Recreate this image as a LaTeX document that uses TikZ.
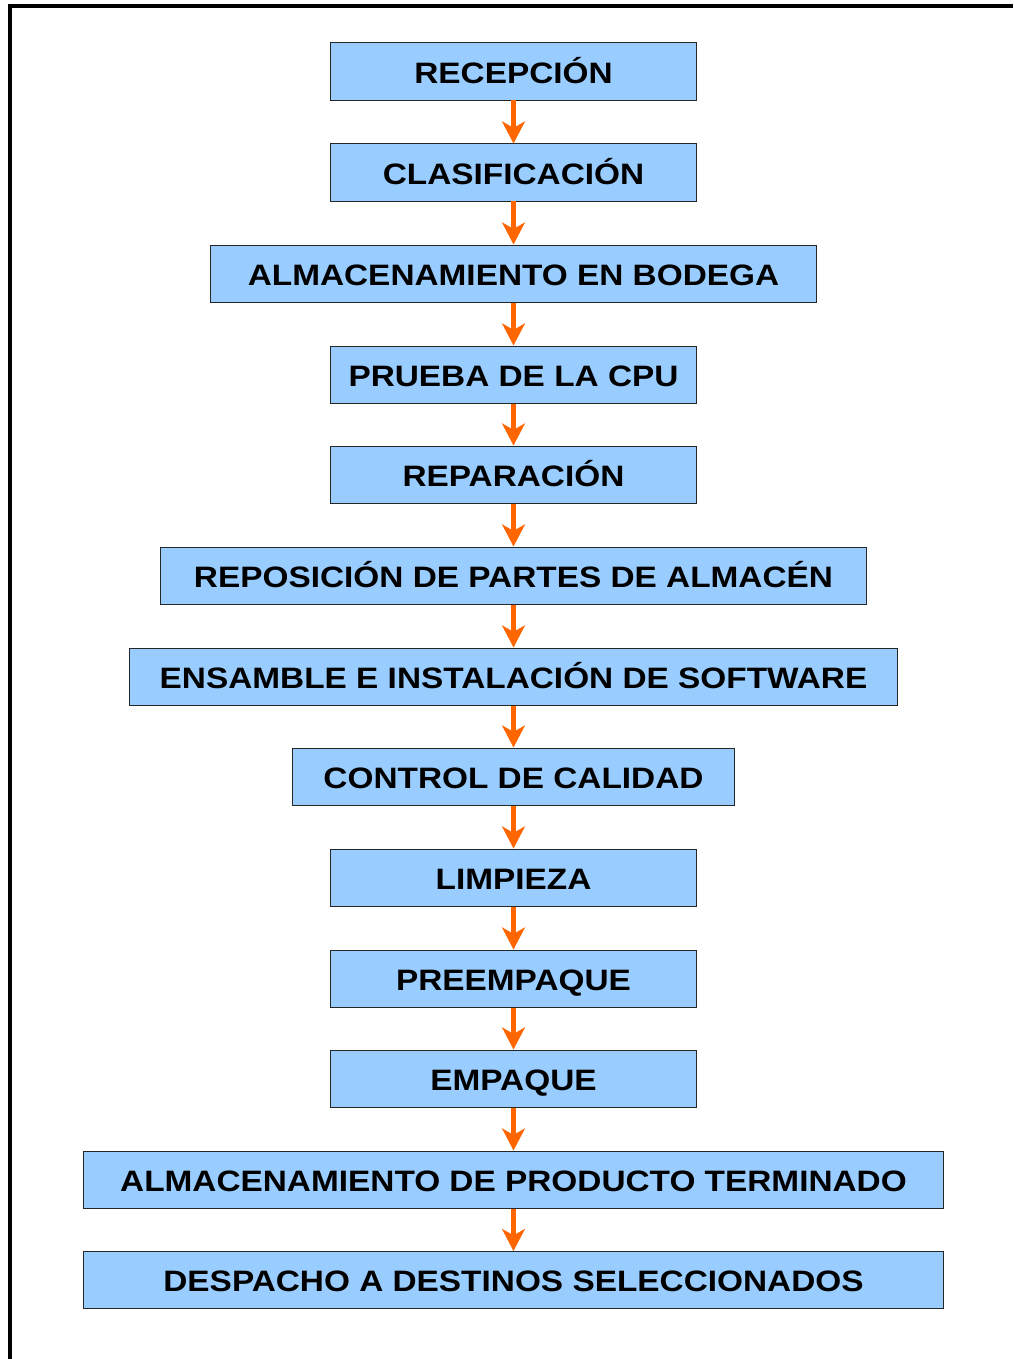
\documentclass[tikz,border=0pt]{standalone}
\usepackage{fontspec}
\setmainfont{Liberation Sans}
\newfontfamily\etiqueta[FakeStretch=1.13]{Liberation Sans}
\usetikzlibrary{arrows.meta}
\definecolor{boxblue}{HTML}{99CCFF}
\definecolor{flecha}{HTML}{FF6600}
\tikzset{
  etapa/.style={draw=black!85, line width=0.7pt, fill=boxblue, minimum height=1.425cm,
    inner sep=0pt, text height=0.575cm, text depth=0pt,
    font=\etiqueta\fontsize{21}{25}\selectfont\bfseries},
  paso/.style={draw=flecha, line width=3.2pt, -{Stealth[length=5.5mm, width=5.7mm, inset=1.6mm]}}
}
\begin{document}
\begin{tikzpicture}[x=0.025cm, y=-0.025cm]
    \useasboundingbox (0,0) rectangle (1013,1359);
    \draw[line width=2.85pt] (10,1359) -- (10,6) -- (1013,6);
    \node(rec)[etapa, minimum width=9.125cm] at (513.5, 71.5) {RECEPCIÓN};
    \node(cla)[etapa, minimum width=9.125cm] at (513.5, 172.5) {CLASIFICACIÓN};
    \node(alm)[etapa, minimum width=15.125cm] at (513.5, 273.5) {ALMACENAMIENTO EN BODEGA};
    \node(pru)[etapa, minimum width=9.125cm] at (513.5, 374.5) {PRUEBA DE LA CPU};
    \node(rep)[etapa, minimum width=9.125cm] at (513.5, 474.5) {REPARACIÓN};
    \node(pos)[etapa, minimum width=17.625cm] at (513.5, 575.5) {REPOSICIÓN DE PARTES DE ALMACÉN};
    \node(ens)[etapa, minimum width=19.2cm] at (513.5, 676.5) {ENSAMBLE E INSTALACIÓN DE SOFTWARE};
    \node(con)[etapa, minimum width=11.025cm] at (513.5, 776.5) {CONTROL DE CALIDAD};
    \node(lim)[etapa, minimum width=9.125cm] at (513.5, 877.5) {LIMPIEZA};
    \node(pre)[etapa, minimum width=9.125cm] at (513.5, 978.5) {PREEMPAQUE};
    \node(emp)[etapa, minimum width=9.125cm] at (513.5, 1078.5) {EMPAQUE};
    \node(ter)[etapa, minimum width=21.475cm] at (513.5, 1179.5) {ALMACENAMIENTO DE PRODUCTO TERMINADO};
    \node(des)[etapa, minimum width=21.475cm] at (513.5, 1280) {DESPACHO A DESTINOS SELECCIONADOS};
    \draw[paso] (rec) -- (cla);
    \draw[paso] (cla) -- (alm);
    \draw[paso] (alm) -- (pru);
    \draw[paso] (pru) -- (rep);
    \draw[paso] (rep) -- (pos);
    \draw[paso] (pos) -- (ens);
    \draw[paso] (ens) -- (con);
    \draw[paso] (con) -- (lim);
    \draw[paso] (lim) -- (pre);
    \draw[paso] (pre) -- (emp);
    \draw[paso] (emp) -- (ter);
    \draw[paso] (ter) -- (des);
\end{tikzpicture}
\end{document}
